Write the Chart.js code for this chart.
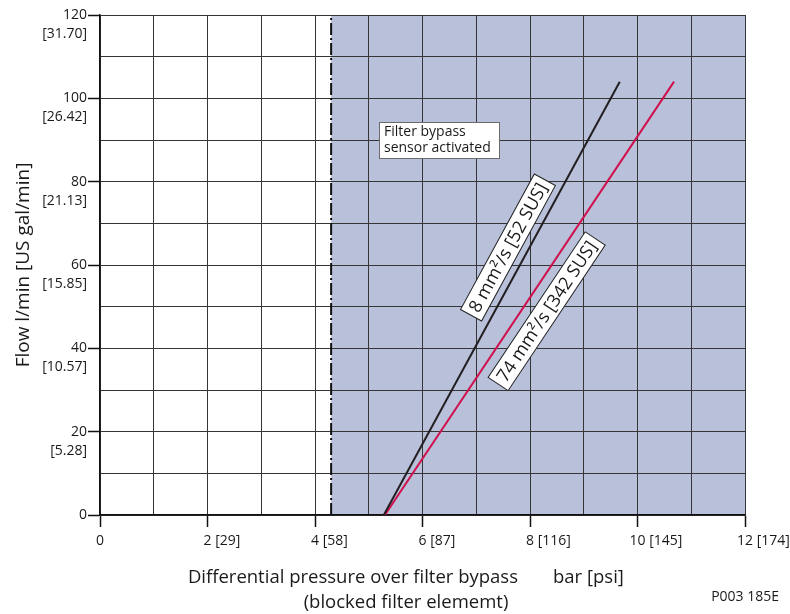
<!DOCTYPE html>
<html lang="en">
<head>
    <meta charset="UTF-8">
    <title>Filter bypass - flow vs differential pressure</title>
    <script src="https://cdn.jsdelivr.net/npm/chart.js"></script>
    <style>
        body {
            margin: 0;
            background: #ffffff;
        }
        .container {
            position: relative;
            width: 790px;
            height: 614px;
        }
    </style>
</head>
<body>
    <div class="container">
        <canvas id="bypassChart"></canvas>
    </div>

    <script>
        // Flow ticks (l/min) and the US gal/min equivalents
        const flowTicks = [0, 20, 40, 60, 80, 100, 120];
        const flowGpm = ['', '[5.28]', '[10.57]', '[15.85]', '[21.13]', '[26.42]', '[31.70]'];

        // Pressure ticks (bar) and psi equivalents
        const pressureTicks = [0, 2, 4, 6, 8, 10, 12];
        const pressurePsi = ['', '[29]', '[58]', '[87]', '[116]', '[145]', '[174]'];

        // Curves
        const seriesNames = ['8 mm²/s [52 SUS]', '74 mm²/s [342 SUS]'];
        const lowViscPressure = [5.28, 9.67];
        const lowViscFlow = [0, 104];
        const highViscPressure = [5.30, 10.68];
        const highViscFlow = [0, 104];

        // Bypass sensor switching point (bar)
        const bypassPressure = 4.3;

        const FONT = "'Open Sans', 'Noto Sans', sans-serif";
        const GRID = '#353535';
        const TEXT = '#1a1a1a';

        const toPoints = (xs, ys) => xs.map((x, i) => ({ x: x, y: ys[i] }));

        const decorations = {
            id: 'decorations',
            beforeDraw(chart) {
                // shaded region right of the bypass point
                const { ctx, chartArea, scales } = chart;
                const x0 = scales.x.getPixelForValue(bypassPressure);
                ctx.save();
                ctx.fillStyle = '#b8c0da';
                ctx.fillRect(x0, chartArea.top, chartArea.right - x0, chartArea.bottom - chartArea.top);
                ctx.restore();
            },
            afterDatasetsDraw(chart) {
                const { ctx, scales } = chart;
                const xs = scales.x, ys = scales.y;

                // "Filter bypass sensor activated" box
                const bx = Math.round(xs.getPixelForValue(5.19)), by = Math.round(ys.getPixelForValue(94.3));
                ctx.save();
                ctx.fillStyle = '#ffffff';
                ctx.strokeStyle = '#6b6b6b';
                ctx.lineWidth = 1;
                ctx.fillRect(bx, by, 120, 36);
                ctx.strokeRect(bx + 0.5, by + 0.5, 120, 36);
                ctx.fillStyle = TEXT;
                ctx.font = '14px ' + FONT;
                ctx.textBaseline = 'middle';
                ctx.fillText('Filter bypass', bx + 5, by + 10);
                ctx.fillText('sensor activated', bx + 5, by + 26);
                ctx.restore();

                // rotated curve labels
                const anchors = [[7.59, 64.2], [8.31, 48.9]];
                chart.data.datasets.slice(0, 2).forEach((ds, i) => {
                    const p0 = ds.data[0], p1 = ds.data[ds.data.length - 1];
                    const ang = Math.atan2(
                        ys.getPixelForValue(p1.y) - ys.getPixelForValue(p0.y),
                        xs.getPixelForValue(p1.x) - xs.getPixelForValue(p0.x));
                    const cx = xs.getPixelForValue(anchors[i][0]);
                    const cy = ys.getPixelForValue(anchors[i][1]);
                    ctx.save();
                    ctx.translate(cx, cy);
                    ctx.rotate(ang);
                    ctx.font = '18px ' + FONT;
                    const w = ctx.measureText(seriesNames[i]).width + 10;
                    const h = 24;
                    ctx.fillStyle = '#ffffff';
                    ctx.fillRect(-w / 2, -h / 2, w, h);
                    ctx.strokeStyle = '#222';
                    ctx.lineWidth = 1;
                    ctx.strokeRect(-w / 2, -h / 2, w, h);
                    ctx.fillStyle = TEXT;
                    ctx.textAlign = 'center';
                    ctx.textBaseline = 'middle';
                    ctx.fillText(seriesNames[i], 0, 1);
                    ctx.restore();
                });
            },
            afterDraw(chart) {
                const { ctx, scales } = chart;
                const xs = scales.x;
                ctx.save();
                ctx.fillStyle = TEXT;
                ctx.textBaseline = 'middle';

                // x tick labels: bar value centred on the tick, psi after it
                ctx.font = '14px ' + FONT;
                pressureTicks.forEach((v, i) => {
                    const px = xs.getPixelForValue(v);
                    const num = String(v);
                    const nw = ctx.measureText(num).width;
                    ctx.textAlign = 'left';
                    const txt = pressurePsi[i] ? num + ' ' + pressurePsi[i] : num;
                    ctx.fillText(txt, px - nw / 2, xs.top + 26);
                });

                // axis titles
                ctx.font = '18.5px ' + FONT;
                ctx.textAlign = 'right';
                ctx.fillText('Differential pressure over filter bypass', 518, 578);
                ctx.textAlign = 'left';
                ctx.fillText('bar [psi]', 553, 578);
                ctx.textAlign = 'center';
                ctx.fillText('(blocked filter elememt)', 406, 603);

                ctx.save();
                ctx.font = '19px ' + FONT;
                ctx.translate(24, 265);
                ctx.rotate(-Math.PI / 2);
                ctx.fillText('Flow l/min [US gal/min]', 0, 0);
                ctx.restore();

                ctx.font = '14px ' + FONT;
                ctx.textAlign = 'right';
                ctx.fillText('P003 185E', 779, 597);
                ctx.restore();
            }
        };

        new Chart(document.getElementById('bypassChart'), {
            type: 'scatter',
            data: {
                datasets: [
                    {
                        label: seriesNames[0],
                        data: toPoints(lowViscPressure, lowViscFlow),
                        showLine: true,
                        borderColor: '#231f20',
                        borderWidth: 2,
                        pointRadius: 0
                    },
                    {
                        label: seriesNames[1],
                        data: toPoints(highViscPressure, highViscFlow),
                        showLine: true,
                        borderColor: '#d0104c',
                        borderWidth: 2,
                        pointRadius: 0
                    },
                    {
                        label: 'bypass',
                        data: toPoints([bypassPressure, bypassPressure], [0, 120]),
                        showLine: true,
                        borderColor: '#111',
                        borderWidth: 2,
                        borderDash: [12, 3, 2, 3],
                        pointRadius: 0
                    }
                ]
            },
            options: {
                responsive: true,
                maintainAspectRatio: false,
                animation: false,
                layout: {
                    padding: { top: 15, right: 45, left: 0, bottom: 0 }
                },
                plugins: {
                    legend: { display: false },
                    tooltip: { enabled: false }
                },
                scales: {
                    x: {
                        type: 'linear',
                        min: 0,
                        max: 12,
                        afterFit(scale) {
                            scale.height = 99;
                            scale.paddingLeft = 0;
                            scale.paddingRight = 0;
                        },
                        border: { color: '#111', width: 1.5 },
                        grid: {
                            color: GRID,
                            lineWidth: 1,
                            tickLength: 12,
                            tickColor: c => (c.tick && c.tick.value % 2 === 0) ? '#111' : 'rgba(0,0,0,0)',
                            tickWidth: 1.5
                        },
                        ticks: {
                            stepSize: 1,
                            autoSkip: false,
                            maxRotation: 0,
                            callback: () => ''
                        }
                    },
                    y: {
                        min: 0,
                        max: 120,
                        afterFit(scale) {
                            scale.width = 100;
                            scale.paddingTop = 0;
                            scale.paddingBottom = 0;
                        },
                        border: { color: '#111', width: 1.5 },
                        grid: {
                            color: GRID,
                            lineWidth: 1,
                            tickLength: 12,
                            tickColor: c => (c.tick && c.tick.value % 20 === 0) ? '#111' : 'rgba(0,0,0,0)',
                            tickWidth: 1.5
                        },
                        ticks: {
                            stepSize: 10,
                            autoSkip: false,
                            padding: 1,
                            labelOffset: 9.5,
                            color: TEXT,
                            font: { family: FONT, size: 14, lineHeight: 1.35 },
                            callback: v => {
                                const i = flowTicks.indexOf(v);
                                if (i < 0) return '';
                                return [String(v), flowGpm[i]];
                            }
                        }
                    }
                }
            },
            plugins: [decorations]
        });
    </script>
</body>
</html>
